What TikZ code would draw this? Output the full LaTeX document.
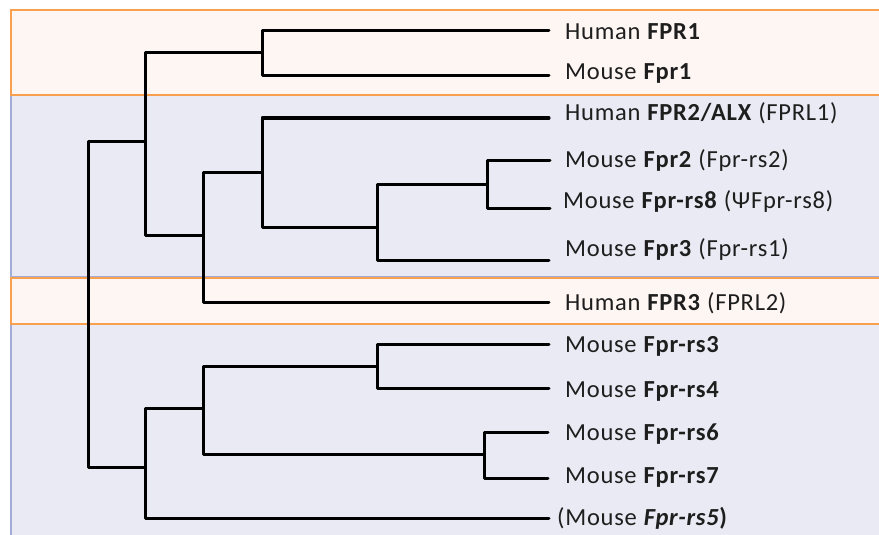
\documentclass[tikz,border=0pt]{standalone}
\usepackage{fontspec}
\setmainfont{Carlito}[LetterSpace=3]
\definecolor{orfill}{HTML}{FEF6F3}
\definecolor{ordraw}{HTML}{F9A04F}
\definecolor{blfill}{HTML}{E9EAF3}
\definecolor{bldraw}{HTML}{A3ABD6}
\definecolor{txt}{HTML}{1E1E1E}
\begin{document}
\begin{tikzpicture}[x=1pt,y=-1pt,
  orband/.style={fill=orfill,draw=ordraw,line width=1.6pt},
  blband/.style={fill=blfill,draw=bldraw,line width=1.6pt},
  branch/.style={line width=3pt,line cap=round,line join=round,black},
  leaf/.style={anchor=base west,inner sep=0pt,text=txt,font=\fontsize{24.5}{28}\selectfont}]
\useasboundingbox (0,0) rectangle (879,535);
\clip (0,0) rectangle (879,535);
% bands
\draw[blband] (11,95) rectangle (900,276.5);
\draw[blband] (11,324) rectangle (900,560);
\draw[orband] (11,10) rectangle (900,95);
\draw[orband] (11,278) rectangle (900,324);
% leaf ends
\coordinate (e1) at (549,31);
\coordinate (e2) at (549,76);
\coordinate (e3) at (549,118);
\coordinate (e4) at (550,160);
\coordinate (e5) at (550,208);
\coordinate (e6) at (549,260);
\coordinate (e7) at (549,302);
\coordinate (e8) at (549,344);
\coordinate (e9) at (549,388);
\coordinate (e10) at (548,432);
\coordinate (e11) at (548,478);
\coordinate (e12) at (549,518);
% internal nodes
\coordinate (a) at (262,53);
\coordinate (b) at (487,184);
\coordinate (c) at (377,227);
\coordinate (d) at (262,172);
\coordinate (f) at (203,235);
\coordinate (g) at (145,141);
\coordinate (root) at (88,304);
\coordinate (h) at (145,467);
\coordinate (i) at (203,408);
\coordinate (j) at (377,366);
\coordinate (k) at (484,454);
% branches
\draw[branch] (e1) -| (a) |- (e2);
\draw[branch] (e4) -| (b) |- (e5);
\draw[branch] (b) -| (c) |- (e6);
\draw[branch] (e3) -| (d) |- (c);
\draw[branch] (d) -| (f) |- (e7);
\draw[branch] (a) -| (g) |- (f);
\draw[branch] (g) -| (root) |- (h);
\draw[branch] (i) -| (h) |- (e12);
\draw[branch] (j) -| (i) |- (k);
\draw[branch] (e8) -| (j) |- (e9);
\draw[branch] (e10) -| (k) |- (e11);
% labels
\node[leaf] (t1) at (565,40) {Human \textbf{FPR1}};
\node[leaf] (t2) at (565,80) {Mouse \textbf{Fpr1}};
\node[leaf] (t3) at (565,121) {Human \textbf{FPR2/ALX} (FPRL1)};
\node[leaf] (t4) at (565,167) {Mouse \textbf{Fpr2} (Fpr-rs2)};
\node[leaf] (t5) at (563,208) {Mouse \textbf{Fpr-rs8} (ΨFpr-rs8)};
\node[leaf] (t6) at (565,256) {Mouse \textbf{Fpr3} (Fpr-rs1)};
\node[leaf] (t7) at (565,310) {Human \textbf{FPR3} (FPRL2)};
\node[leaf] (t8) at (565,352) {Mouse \textbf{Fpr-rs3}};
\node[leaf] (t9) at (565,397) {Mouse \textbf{Fpr-rs4}};
\node[leaf] (t10) at (565,440) {Mouse \textbf{Fpr-rs6}};
\node[leaf] (t11) at (565,483) {Mouse \textbf{Fpr-rs7}};
\node[leaf] (t12) at (557,525) {(Mouse \textbf{\textit{Fpr-rs5})}};
\end{tikzpicture}
\end{document}
